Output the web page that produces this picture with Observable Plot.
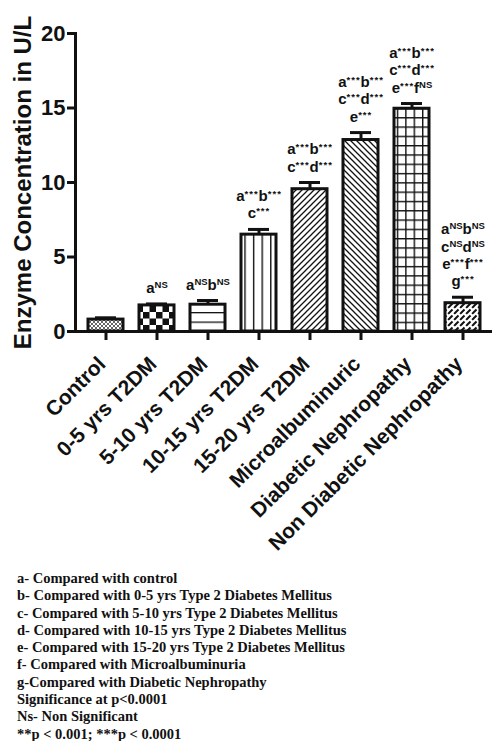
<!DOCTYPE html>
<html><head><meta charset="utf-8">
<script src="https://cdn.jsdelivr.net/npm/d3@7"></script>
<script src="https://cdn.jsdelivr.net/npm/@observablehq/plot@0.6"></script>
<style>
body{margin:0;background:#fff;}
#chart svg{display:block;font-family:"Liberation Sans",Arial,sans-serif;font-weight:bold;color:#111;}
#chart g[aria-label="y-axis label"] text{font-size:24px;}
#notes{font-family:"Liberation Serif","Times New Roman",serif;font-weight:bold;font-size:14.5px;line-height:17.3px;margin:10px 0 0 17px;color:#111;}
</style></head><body><div id="chart"></div><div id="notes"></div>
<script>
const categories = ["Control","0-5 yrs T2DM","5-10 yrs T2DM","10-15 yrs T2DM","15-20 yrs T2DM","Microalbuminuric","Diabetic Nephropathy","Non Diabetic Nephropathy"];
const means = [0.8, 1.75, 1.8, 6.5, 9.55, 12.85, 14.95, 1.9];
const errors = [0.12, 0.1, 0.28, 0.35, 0.45, 0.5, 0.35, 0.4];
const annotations = ["", "aNS", "aNSbNS", "a***b***\nc***", "a***b***\nc***d***", "a***b***\nc***d***\ne***", "a***b***\nc***d***\ne***fNS", "aNSbNS\ncNSdNS\ne***f***\ng***"];
const yTicks = [0, 5, 10, 15, 20];
const yLabel = "Enzyme Concentration in U/L";
const notes = [
  "a- Compared with control",
  "b- Compared with 0-5 yrs Type 2 Diabetes Mellitus",
  "c- Compared with 5-10 yrs Type 2 Diabetes Mellitus",
  "d- Compared with 10-15 yrs Type 2 Diabetes Mellitus",
  "e- Compared with 15-20 yrs Type 2 Diabetes Mellitus",
  "f- Compared with Microalbuminuria",
  "g-Compared with Diabetic Nephropathy",
  "Significance at p<0.0001",
  "Ns- Non Significant",
  "**p < 0.001; ***p < 0.0001"
];
const patternIds = categories.map((c, i) => "pat" + i);
const LH = 1.15;

const data = categories.map((cat, i) => ({cat, mean: means[i], top: means[i] + errors[i], ann: annotations[i]}));

const svg = Plot.plot({
  width: 492, height: 560,
  marginLeft: 75, marginRight: 0, marginTop: 33, marginBottom: 229,
  x: {domain: categories, paddingInner: 0.32, paddingOuter: 0.18, label: null},
  y: {domain: [0, 20], label: null},
  color: {type: "ordinal", domain: categories, range: patternIds.map(id => `url(#${id})`)},
  marks: [
    Plot.barY(data, {x: "cat", y: "mean", fill: "cat", stroke: "#111", strokeWidth: 3}),
    Plot.ruleX(data, {x: "cat", y1: "mean", y2: "top", stroke: "#111", strokeWidth: 3}),
    Plot.tickY(data, {x: "cat", y: "top", stroke: "#111", strokeWidth: 3, insetLeft: 7, insetRight: 7}),
    Plot.text(data.filter(d => d.ann), {x: "cat", y: "top", text: "ann", lineAnchor: "bottom", dy: -11, lineHeight: LH, fontSize: 15, fontWeight: "bold", fill: "#111"}),
    Plot.axisY({ticks: yTicks, tickSize: 8, tickPadding: 2, strokeWidth: 3, fontSize: 22, label: yLabel, labelAnchor: "center", labelOffset: 62, labelArrow: "none"}),
    Plot.axisX({tickSize: 9, strokeWidth: 3, tickFormat: () => "", label: null}),
    Plot.axisX({tickSize: 0, tickPadding: 29, dx: -4, tickRotate: -45, fontSize: 21, label: null}),
    Plot.frame({anchor: "left", stroke: "#111", strokeWidth: 3}),
    Plot.ruleY([0], {stroke: "#111", strokeWidth: 3})
  ]
});

// pattern definitions
const ns = "http://www.w3.org/2000/svg";
const defs = d3.select(svg).insert("defs", ":first-child");
function pat(id, w, h) {
  return defs.append("pattern").attr("id", id).attr("patternUnits", "userSpaceOnUse").attr("width", w).attr("height", h);
}
function bg(p, w, h) { p.append("rect").attr("width", w).attr("height", h).attr("fill", "#fff"); }
{ const p = pat("pat0", 4, 4); bg(p, 4, 4); p.append("path").attr("d", "M0,0L4,4M4,0L0,4").attr("stroke", "#555").attr("stroke-width", 0.9); }
{ const p = pat("pat1", 13, 13); bg(p, 13, 13); p.append("path").attr("d", "M0,0h6.5v6.5h-6.5zM6.5,6.5h6.5v6.5h-6.5z").attr("fill", "#111"); }
{ const p = pat("pat2", 10, 9.5).attr("y", 331); bg(p, 10, 9.5); p.append("path").attr("d", "M0,0.6H10").attr("stroke", "#111").attr("stroke-width", 1.4); }
{ const p = pat("pat3", 8.6, 10).attr("x", 3.5); bg(p, 8.6, 10); p.append("path").attr("d", "M0.7,0V10").attr("stroke", "#111").attr("stroke-width", 1.4); }
{ const p = pat("pat4", 6, 6); bg(p, 6, 6); p.append("path").attr("d", "M-1,7L7,-1M-1,1L1,-1M5,7L7,5").attr("stroke", "#111").attr("stroke-width", 1.3); }
{ const p = pat("pat5", 6, 6); bg(p, 6, 6); p.append("path").attr("d", "M-1,-1L7,7M5,-1L7,1M-1,5L1,7").attr("stroke", "#111").attr("stroke-width", 1.3); }
{ const p = pat("pat6", 8.4, 9.3).attr("x", 2).attr("y", 331); bg(p, 8.4, 9.3); p.append("path").attr("d", "M0.7,0V9.3M0,0.7H8.4").attr("stroke", "#111").attr("stroke-width", 1.4); }
{ const p = pat("pat7", 6, 6); bg(p, 6, 6); p.append("path").attr("d", "M-1,7L7,-1M-1,1L1,-1M5,7L7,5").attr("stroke", "#111").attr("stroke-width", 2).attr("stroke-dasharray", "5,2.2"); }

// superscripts in annotations
const annRe = /^([a-g](\*+|NS))+$/;
function supify(el) {
  const s = el.textContent;
  while (el.firstChild) el.removeChild(el.firstChild);
  const re = /([a-g])(\*+|NS)?/g;
  let m, raised = 0;
  while ((m = re.exec(s))) {
    const a = document.createElementNS(ns, "tspan");
    if (raised) a.setAttribute("dy", raised);
    a.textContent = m[1];
    el.appendChild(a);
    raised = 0;
    if (m[2]) {
      const isNS = m[2] === "NS";
      const shift = isNS ? 5 : 4;
      const t = document.createElementNS(ns, "tspan");
      t.setAttribute("font-size", "9.5");
      if (!isNS) t.setAttribute("letter-spacing", "1");
      t.setAttribute("dy", -shift);
      t.textContent = m[2];
      el.appendChild(t);
      raised = shift;
    }
  }
}
d3.select(svg).selectAll("text").each(function () {
  const spans = Array.from(this.querySelectorAll("tspan"));
  const n = spans.length;
  if (n) {
    if (!spans.every(sp => annRe.test(sp.textContent))) return;
    spans.forEach((sp, i) => { sp.removeAttribute("dy"); sp.setAttribute("y", `${(1 - n + i) * LH}em`); supify(sp); });
  } else if (annRe.test(this.textContent)) supify(this);
});

document.getElementById("chart").appendChild(svg);
d3.select("#notes").selectAll("div").data(notes).join("div").text(d => d);
</script></body></html>
